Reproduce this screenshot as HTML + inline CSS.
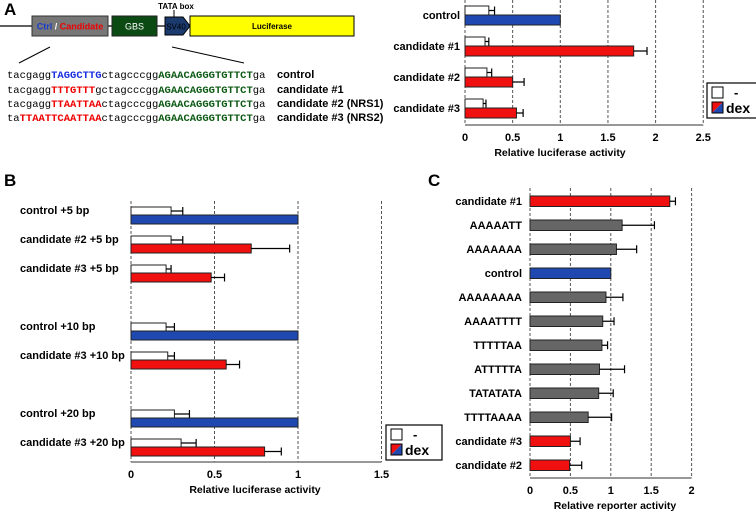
<!DOCTYPE html>
<html><head><meta charset="utf-8"><style>
body{margin:0;background:#fff}
svg{display:block;font-family:"Liberation Sans",sans-serif}
.lb{font-weight:bold;font-size:11px}
.mono{font-family:"Liberation Mono",monospace;font-size:10.5px}
</style></head><body>
<svg id="s" width="756" height="516" viewBox="0 0 756 516">
<text x="4" y="15" font-size="17" font-weight="bold">A</text>
<text x="4" y="186" font-size="17" font-weight="bold">B</text>
<text x="428" y="186" font-size="17" font-weight="bold">C</text>
<g>
<line x1="0" y1="26" x2="190" y2="26" stroke="#000" stroke-width="1.2"/>
<rect x="32" y="16" width="76" height="20" fill="#777" stroke="#333"/>
<text x="70" y="29.5" font-size="9" font-weight="bold" text-anchor="middle"><tspan fill="#1a3ccc">Ctrl</tspan><tspan fill="#fff"> / </tspan><tspan fill="#e00">Candidate</tspan></text>
<rect x="112" y="16" width="45" height="20" fill="#0c4a14" stroke="#222"/>
<text x="134.5" y="29.5" font-size="9" fill="#fff" text-anchor="middle">GBS</text>
<polygon points="165,17 183,17 190,26 183,35 165,35" fill="#1b3a6e" stroke="#000"/>
<text x="176" y="29.5" font-size="8" fill="#000" text-anchor="middle">SV40</text>
<line x1="174" y1="10" x2="174" y2="17" stroke="#000"/>
<text x="176" y="9" font-size="8" font-weight="bold" text-anchor="middle">TATA box</text>
<rect x="190" y="16" width="164" height="20" fill="#ffff00" stroke="#000"/>
<text x="272" y="29" font-size="8" font-weight="bold" text-anchor="middle">Luciferase</text>
<line x1="50" y1="47" x2="19" y2="63" stroke="#000"/>
<line x1="172" y1="47" x2="244" y2="63" stroke="#000"/>
</g>
<g>
<text class="mono" x="7" y="78">tacgagg<tspan fill="#1a2ee0" font-weight="bold">TAGGCTTG</tspan>ctagcccgg<tspan fill="#0c5a14" font-weight="bold">AGAACAGGGTGTTCT</tspan>ga</text>
<text class="lb" x="277" y="78">control</text>
<text class="mono" x="7" y="93">tacgagg<tspan fill="#e00" font-weight="bold">TTTGTTT</tspan>gctagcccgg<tspan fill="#0c5a14" font-weight="bold">AGAACAGGGTGTTCT</tspan>ga</text>
<text class="lb" x="277" y="93">candidate #1</text>
<text class="mono" x="7" y="107">tacgagg<tspan fill="#e00" font-weight="bold">TTAATTAA</tspan>ctagcccgg<tspan fill="#0c5a14" font-weight="bold">AGAACAGGGTGTTCT</tspan>ga</text>
<text class="lb" x="277" y="107">candidate #2 (NRS1)</text>
<text class="mono" x="7" y="121">ta<tspan fill="#e00" font-weight="bold">TTAATTCAATTAA</tspan>ctagcccgg<tspan fill="#0c5a14" font-weight="bold">AGAACAGGGTGTTCT</tspan>ga</text>
<text class="lb" x="277" y="121">candidate #3 (NRS2)</text>
</g>
</svg>
<script>
// Panel A
const aCats=["control","candidate #1","candidate #2","candidate #3"];
const aMinus=[0.25,0.21,0.23,0.19];
const aMinusErr=[0.06,0.04,0.05,0.03];
const aDex=[1.0,1.77,0.5,0.54];
const aDexErr=[0,0.14,0.12,0.07];
const aDexColor=["blue","red","red","red"];
const aTicks=["0","0.5","1","1.5","2","2.5"];
// Panel B
const bCats=["control +5 bp","candidate #2 +5 bp","candidate #3 +5 bp","control +10 bp","candidate #3 +10 bp","control +20 bp","candidate #3 +20 bp"];
const bMinus=[0.24,0.24,0.21,0.21,0.22,0.26,0.30];
const bMinusErr=[0.07,0.07,0.03,0.05,0.04,0.09,0.09];
const bDex=[1.0,0.72,0.48,1.0,0.57,1.0,0.80];
const bDexErr=[0,0.23,0.08,0,0.08,0,0.10];
const bDexColor=["blue","red","red","blue","red","blue","red"];
const bTicks=["0","0.5","1","1.5"];
// Panel C
const cCats=["candidate #1","AAAAATT","AAAAAAA","control","AAAAAAAA","AAAATTTT","TTTTTAA","ATTTTTA","TATATATA","TTTTAAAA","candidate #3","candidate #2"];
const cVals=[1.73,1.14,1.07,1.0,0.94,0.90,0.89,0.86,0.85,0.72,0.50,0.49];
const cErr=[0.07,0.40,0.25,0,0.21,0.14,0.07,0.31,0.18,0.29,0.12,0.15];
const cColor=["red","gray","gray","blue","gray","gray","gray","gray","gray","gray","red","red"];
const cTicks=["0","0.5","1","1.5","2"];

const NS="http://www.w3.org/2000/svg";
const svg=document.getElementById('s');
const COL={blue:"#1f48b0",red:"#f01010",gray:"#666",white:"#fff"};
function mk(t,a,p){const e=document.createElementNS(NS,t);for(const k in a)e.setAttribute(k,a[k]);(p||svg).appendChild(e);return e;}
function axes(g,x0,ppu,top,axisY,ticks,title,titleX){
  ticks.forEach((t,i)=>{const v=parseFloat(t);const x=x0+v*ppu;
    const l=mk('line',{x1:x,y1:top,x2:x,y2:axisY,stroke:"#555","stroke-dasharray":"3,2","stroke-width":1},g);
    
    
    const tx=mk('text',{x:x,y:axisY+16,"text-anchor":"middle",class:"lb"},g);tx.textContent=t;
    
    
  });
  const ax=mk('line',{x1:x0,y1:axisY,x2:x0+parseFloat(ticks[ticks.length-1])*ppu,y2:axisY,stroke:"#777","stroke-width":1.5},g);
  
  
  const tt=mk('text',{x:titleX,y:axisY+31,"text-anchor":"middle",class:"lb",style:"font-size:10.5px"},g);tt.textContent=title;
  
  
}
function bar(g,x0,ppu,y,h,v,err,fill){
  const r=mk('rect',{x:x0,y:y,width:v*ppu,height:h,fill:fill,stroke:"#222","stroke-width":1},g);
  
  
  if(err>0){const xe=x0+(v+err)*ppu,xm=x0+v*ppu,ym=y+h/2;
    const e=mk('path',{d:`M${xm},${ym}H${xe}M${xe},${ym-4}V${ym+4}`,stroke:"#000","stroke-width":1.2,fill:"none"},g);
    
    }
}
function label(g,x,y,t,anchor){const e=mk('text',{x:x,y:y,"text-anchor":anchor,class:"lb"},g);e.textContent=t;
  
  }
function legend(x,y,w,name){const g=mk('g',{});
  mk('rect',{x:x,y:y,width:w,height:35,fill:"#fff",stroke:"#000","stroke-width":1.2},g);
  mk('rect',{x:x+5,y:y+4,width:11,height:11,fill:"#fff",stroke:"#000"},g);
  mk('polygon',{points:`${x+5},${y+19} ${x+16},${y+19} ${x+5},${y+30}`,fill:COL.red},g);
  mk('polygon',{points:`${x+16},${y+19} ${x+16},${y+30} ${x+5},${y+30}`,fill:COL.blue},g);
  mk('rect',{x:x+5,y:y+19,width:11,height:11,fill:"none",stroke:"#000"},g);
  let t=mk('text',{x:x+27,y:y+14,style:"font-weight:bold;font-size:13px"},g);t.textContent="-";
  t=mk('text',{x:x+19,y:y+30,style:"font-weight:bold;font-size:14px"},g);t.textContent="dex";}

// Panel A chart
(function(){const g=mk('g',{});
  const x0=465,ppu=95.3;axes(g,x0,ppu,0,125,aTicks,"Relative luciferase activity",560);
  aCats.forEach((c,i)=>{const y=6+i*31;
    bar(g,x0,ppu,y,9,aMinus[i],aMinusErr[i],COL.white);
    bar(g,x0,ppu,y+9,10,aDex[i],aDexErr[i],COL[aDexColor[i]]);
    label(g,460,y+13,c,"end");});
  legend(707,83,55,'legend-a');})();
// Panel B chart
(function(){const g=mk('g',{});
  const x0=131,ppu=167;axes(g,x0,ppu,201,462,bTicks,"Relative luciferase activity",255);
  const ys=[207,236,265,323,352,410,439];
  bCats.forEach((c,i)=>{const y=ys[i];
    bar(g,x0,ppu,y,8,bMinus[i],bMinusErr[i],COL.white);
    bar(g,x0,ppu,y+8,9,bDex[i],bDexErr[i],COL[bDexColor[i]]);
    label(g,20,y+7,c,"start");});
  legend(386,425,56,'legend-b');})();
// Panel C chart
(function(){const g=mk('g',{});
  const x0=530,ppu=80.8;axes(g,x0,ppu,188,478,cTicks,"Relative reporter activity",615);
  cCats.forEach((c,i)=>{const y=196+i*24;
    bar(g,x0,ppu,y,10.5,cVals[i],cErr[i],COL[cColor[i]]);
    label(g,522,y+9,c,"end");});})();
</script>
</body></html>
